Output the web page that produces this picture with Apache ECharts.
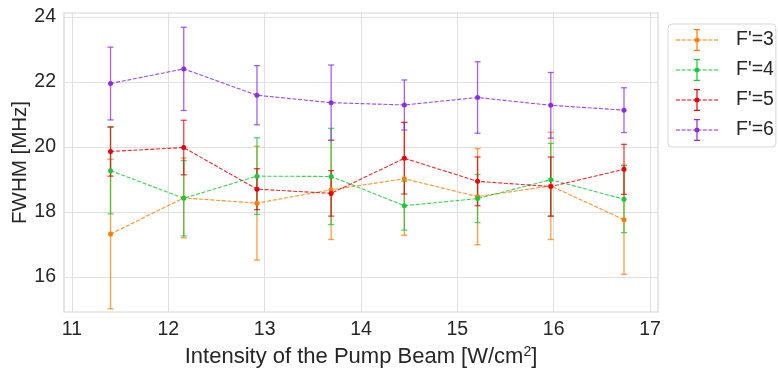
<!DOCTYPE html>
<html>
<head>
<meta charset="utf-8">
<script src="https://cdn.jsdelivr.net/npm/echarts@6/dist/echarts.min.js"></script>
<style>
  html, body { margin: 0; padding: 0; background: #fff; }
  #chart { width: 778px; height: 370px; }
</style>
</head>
<body>
<div id="chart"></div>
<script>
// Intensität der Pumpe (x) und FWHM mit Fehlern pro F'
var intensity = [11.40, 12.16, 12.92, 13.69, 14.45, 15.21, 15.97, 16.73];

var f3 = [17.32, 18.43, 18.27, 18.68, 19.02, 18.47, 18.80, 17.76];
var f3Err = [2.30, 1.23, 1.75, 1.53, 1.74, 1.48, 1.65, 1.68];
var f4 = [19.27, 18.42, 19.10, 19.09, 18.19, 18.41, 18.99, 18.39];
var f4Err = [1.33, 1.16, 1.18, 1.48, 0.75, 0.74, 1.12, 1.03];
var f5 = [19.86, 19.98, 18.70, 18.57, 19.65, 18.94, 18.78, 19.31];
var f5Err = [0.76, 0.84, 0.63, 0.70, 1.10, 0.75, 0.91, 0.77];
var f6 = [21.95, 22.40, 21.59, 21.36, 21.29, 21.52, 21.28, 21.13];
var f6Err = [1.12, 1.28, 0.91, 1.16, 0.77, 1.10, 1.01, 0.69];

var xTicks = [11, 12, 13, 14, 15, 16, 17];
var yTicks = [16, 18, 20, 22, 24];

var names = ["F'=3", "F'=4", "F'=5", "F'=6"];
var colors = ['#ff7c00', '#1ac938', '#e8000b', '#8b2be2'];
var values = [f3, f4, f5, f6];
var errors = [f3Err, f4Err, f5Err, f6Err];

var FONT = 'Liberation Sans';
var TXT = '#262626';

// legend icon: dashed line + errorbar + marker
var legendIcon = 'path://' +
	'M0 10.4h4v1.2h-4z M5.6 10.4h4v1.2h-4z M11.2 10.4h4v1.2h-4z M16.8 10.4h2v1.2h-2z ' +
	'M23.2 10.4h2v1.2h-2z M26.8 10.4h4v1.2h-4z M32.4 10.4h4v1.2h-4z M38 10.4h4v1.2h-4z ' +
	'M20.4 0.6h1.2v20.8h-1.2z M18 0h6v1.2h-6z M18 20.8h6v1.2h-6z ' +
	'M23.5 11A2.5 2.5 0 1 1 18.5 11A2.5 2.5 0 1 1 23.5 11Z';

function errRender( color )
{
	return function( params, api ){
		var x = api.value( 0 );
		var top = api.coord( [ x, api.value( 2 ) ] );
		var bot = api.coord( [ x, api.value( 1 ) ] );
		var half = 3;
		var st = { stroke: color, lineWidth: 1.3, opacity: 0.75 };
		return {
			type: 'group',
			children: [
				{ type: 'line', shape: { x1: top[0], y1: top[1], x2: bot[0], y2: bot[1] }, style: st },
				{ type: 'line', shape: { x1: top[0] - half, y1: top[1], x2: top[0] + half, y2: top[1] }, style: st },
				{ type: 'line', shape: { x1: bot[0] - half, y1: bot[1], x2: bot[0] + half, y2: bot[1] }, style: st }
			]
		};
	};
}

var series = [];
for( var i = 0; i < names.length; i++ )
{
	var errData = [];
	var lineData = [];
	for( var j = 0; j < intensity.length; j++ )
	{
		errData.push( [ intensity[j], values[i][j] - errors[i][j], values[i][j] + errors[i][j] ] );
		lineData.push( [ intensity[j], values[i][j] ] );
	}
	series.push({
		name: names[i] + ' err',
		type: 'custom',
		renderItem: errRender( colors[i] ),
		data: errData,
		silent: true,
		animation: false
	});
	series.push({
		name: names[i],
		type: 'line',
		data: lineData,
		symbol: 'circle',
		symbolSize: 5,
		showSymbol: true,
		color: colors[i],
		lineStyle: { width: 1.1, type: [4, 1.7], opacity: 0.85 },
		itemStyle: { color: colors[i] },
		animation: false
	});
}

var legendData = [];
for( var k = 0; k < names.length; k++ )
{
	legendData.push( { name: names[k], icon: legendIcon } );
}

var chart = echarts.init( document.getElementById( 'chart' ) );
chart.setOption({
	backgroundColor: '#ffffff',
	textStyle: { fontFamily: FONT },
	grid: {
		left: 64,
		right: 120,
		top: 13,
		bottom: 58,
		show: true,
		borderColor: '#d6d6d6',
		borderWidth: 1.2,
		containLabel: false,
		outerBoundsMode: 'none'
	},
	legend: {
		data: legendData,
		orient: 'vertical',
		left: 668,
		top: 24,
		itemWidth: 42,
		itemHeight: 22,
		itemGap: 8,
		padding: [5, 2, 6, 8],
		borderColor: '#d6d6d6',
		borderWidth: 1,
		borderRadius: 4,
		textStyle: { fontFamily: FONT, fontSize: 19.5, color: TXT, padding: [0, 0, 0, 13] }
	},
	xAxis: {
		type: 'value',
		min: 10.917,
		max: 17.083,
		name: 'Intensity of the Pump Beam [W/cm{sup|2}]',
		nameLocation: 'middle',
		nameGap: 30,
		nameTextStyle: {
			fontFamily: FONT, fontSize: 22, color: TXT,
			rich: { sup: { fontFamily: FONT, fontSize: 14, color: TXT, verticalAlign: 'top', padding: [0, 0, 10, 0] } }
		},
		axisLine: { show: false },
		axisTick: { show: false, customValues: xTicks },
		axisLabel: { customValues: xTicks, fontFamily: FONT, fontSize: 19.5, color: TXT, margin: 8 },
		splitLine: { show: true, lineStyle: { color: '#e0e0e0', width: 1 } }
	},
	yAxis: {
		type: 'value',
		min: 14.92,
		max: 24.12,
		name: 'FWHM [MHz]',
		nameLocation: 'middle',
		nameGap: 33,
		nameMoveOverlap: false,
		nameTextStyle: { fontFamily: FONT, fontSize: 20.5, color: TXT },
		axisLine: { show: false },
		axisTick: { show: false, customValues: yTicks },
		axisLabel: { customValues: yTicks, fontFamily: FONT, fontSize: 19.5, color: TXT, margin: 8 },
		splitLine: { show: true, lineStyle: { color: '#e0e0e0', width: 1 } }
	},
	series: series
});
</script>
</body>
</html>
